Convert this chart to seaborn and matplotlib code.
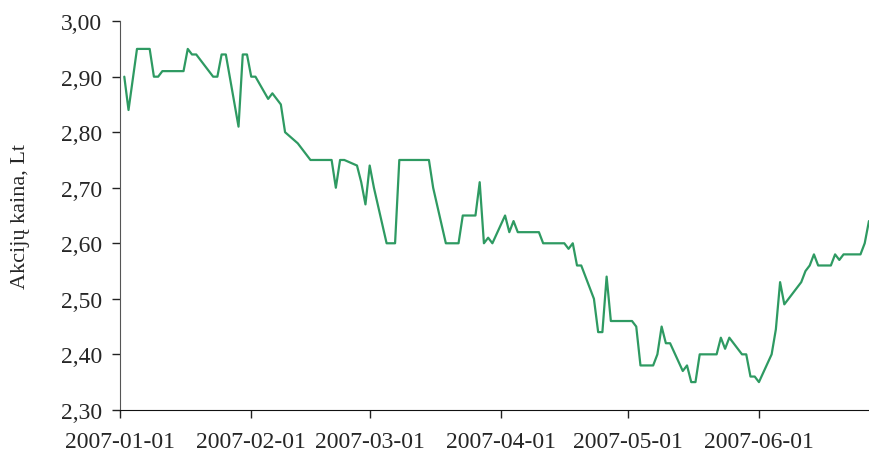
import pandas as pd
import matplotlib.pyplot as plt
import matplotlib.dates as mdates
from matplotlib.ticker import FuncFormatter, MultipleLocator
import seaborn as sns

# Share price readings (trading days)
dates = [
    "2007-01-02", "2007-01-03", "2007-01-05", "2007-01-08", "2007-01-09", "2007-01-10",
    "2007-01-11", "2007-01-16", "2007-01-17", "2007-01-18", "2007-01-19", "2007-01-22",
    "2007-01-23", "2007-01-24", "2007-01-25", "2007-01-26", "2007-01-29", "2007-01-30",
    "2007-01-31", "2007-02-01", "2007-02-02", "2007-02-05", "2007-02-06", "2007-02-08",
    "2007-02-09", "2007-02-12", "2007-02-15", "2007-02-20", "2007-02-21", "2007-02-22",
    "2007-02-23", "2007-02-26", "2007-02-27", "2007-02-28", "2007-03-01", "2007-03-02",
    "2007-03-05", "2007-03-07", "2007-03-08", "2007-03-15", "2007-03-16", "2007-03-19",
    "2007-03-22", "2007-03-23", "2007-03-26", "2007-03-27", "2007-03-28", "2007-03-29",
    "2007-03-30", "2007-04-02", "2007-04-03", "2007-04-04", "2007-04-05", "2007-04-10",
    "2007-04-11", "2007-04-16", "2007-04-17", "2007-04-18", "2007-04-19", "2007-04-20",
    "2007-04-23", "2007-04-24", "2007-04-25", "2007-04-26", "2007-04-27", "2007-05-02",
    "2007-05-03", "2007-05-04", "2007-05-07", "2007-05-08", "2007-05-09", "2007-05-10",
    "2007-05-11", "2007-05-14", "2007-05-15", "2007-05-16", "2007-05-17", "2007-05-18",
    "2007-05-22", "2007-05-23", "2007-05-24", "2007-05-25", "2007-05-28", "2007-05-29",
    "2007-05-30", "2007-05-31", "2007-06-01", "2007-06-04", "2007-06-05", "2007-06-06",
    "2007-06-07", "2007-06-11", "2007-06-12", "2007-06-13", "2007-06-14", "2007-06-15",
    "2007-06-18", "2007-06-19", "2007-06-20", "2007-06-21", "2007-06-25", "2007-06-26",
    "2007-06-27",
]
prices = [
    2.90, 2.84, 2.95, 2.95, 2.90, 2.90,
    2.91, 2.91, 2.95, 2.94, 2.94, 2.91,
    2.90, 2.90, 2.94, 2.94, 2.81, 2.94,
    2.94, 2.90, 2.90, 2.86, 2.87, 2.85,
    2.80, 2.78, 2.75, 2.75, 2.70, 2.75,
    2.75, 2.74, 2.71, 2.67, 2.74, 2.70,
    2.60, 2.60, 2.75, 2.75, 2.70, 2.60,
    2.60, 2.65, 2.65, 2.71, 2.60, 2.61,
    2.60, 2.65, 2.62, 2.64, 2.62, 2.62,
    2.60, 2.60, 2.59, 2.60, 2.56, 2.56,
    2.50, 2.44, 2.44, 2.54, 2.46, 2.46,
    2.45, 2.38, 2.38, 2.40, 2.45, 2.42,
    2.42, 2.37, 2.38, 2.35, 2.35, 2.40,
    2.40, 2.43, 2.41, 2.43, 2.40, 2.40,
    2.36, 2.36, 2.35, 2.40, 2.445, 2.53,
    2.49, 2.53, 2.55, 2.56, 2.58, 2.56,
    2.56, 2.58, 2.57, 2.58, 2.58, 2.60,
    2.64,
]
month_ticks = ["2007-01-01", "2007-02-01", "2007-03-01", "2007-04-01", "2007-05-01", "2007-06-01"]

df = pd.DataFrame({"Data": pd.to_datetime(dates), "Kaina": prices})

sns.set_style("ticks")
plt.rcParams["font.family"] = ["Liberation Serif", "DejaVu Serif"]

fig, ax = plt.subplots(figsize=(8.7, 4.52), dpi=100)
fig.subplots_adjust(left=0.138, right=1.0, bottom=0.091, top=0.951)

sns.lineplot(data=df, x="Data", y="Kaina", color="#2e9a62", linewidth=1.6, ax=ax)

ax.set_xlim(pd.Timestamp("2007-01-01"), pd.Timestamp("2007-06-27 06:00"))
ax.set_ylim(2.30, 3.00)
ax.yaxis.set_major_locator(MultipleLocator(0.10))
ax.yaxis.set_major_formatter(FuncFormatter(lambda v, p: f"{v:.2f}".replace(".", ",")))
ax.set_xticks(pd.to_datetime(month_ticks))
ax.xaxis.set_major_formatter(mdates.DateFormatter("%Y-%m-%d"))

ax.set_xlabel("")
ax.set_ylabel("Akcijų kaina, Lt", fontsize=16, labelpad=22)
ax.tick_params(axis="both", labelsize=17, length=6, width=1, color="#222222", pad=7)
ax.tick_params(axis="x", pad=9)

sns.despine(ax=ax)
ax.spines["left"].set_color("#555555")
ax.spines["bottom"].set_color("#111111")

plt.savefig("out.png")
